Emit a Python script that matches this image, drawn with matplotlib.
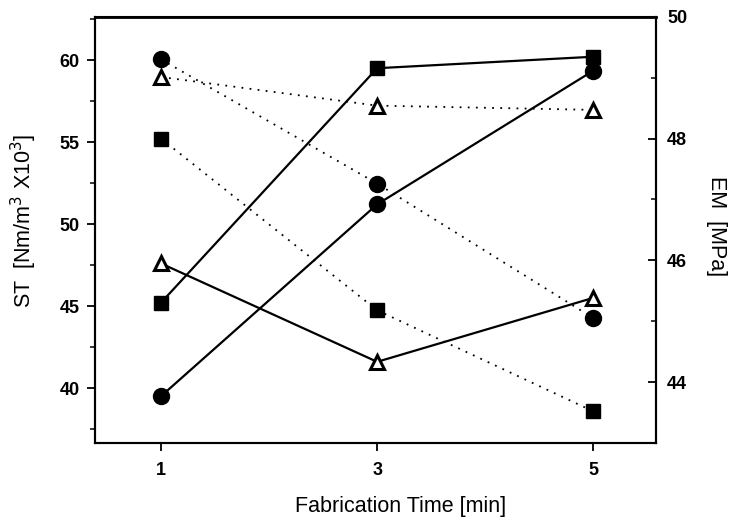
import matplotlib
matplotlib.use("Agg")
import matplotlib.pyplot as plt
from matplotlib.ticker import MultipleLocator

# Data
time_min = [1, 3, 5]
# ST series (left axis, solid lines)
st_square = [45.2, 59.5, 60.2]
st_circle = [39.5, 51.2, 59.35]
st_triangle = [47.6, 41.6, 45.5]
# EM series (right axis, dotted lines)
em_circle = [49.3, 47.26, 45.05]
em_triangle = [49.01, 48.54, 48.47]
em_square = [48.0, 45.18, 43.52]

x_ticks = [1, 3, 5]
st_ticks = [40, 45, 50, 55, 60]
em_ticks = [44, 46, 48, 50]

plt.rcParams['font.family'] = ['Liberation Sans', 'DejaVu Sans']

fig = plt.figure(figsize=(7.33, 5.19), dpi=100)
ax = fig.add_axes([0.1296, 0.1464, 0.7654, 0.8214])
ax2 = ax.twinx()

lw = 1.6
dot = (0, (1, 3.5))
# solid (left)
ax.plot(time_min, st_square, color='black', lw=lw, marker='s', ms=10.5, zorder=3)
ax.plot(time_min, st_circle, color='black', lw=lw, marker='o', ms=11.5, zorder=3)
ax.plot(time_min, st_triangle, color='black', lw=lw, marker='^', ms=10.5,
        mfc='white', mec='black', mew=2.2, zorder=3)
# dotted (right)
ax2.plot(time_min, em_circle, color='black', lw=1.3, ls=dot, marker='o', ms=11.5, zorder=3)
ax2.plot(time_min, em_triangle, color='black', lw=1.3, ls=dot, marker='^', ms=10.5,
         mfc='white', mec='black', mew=2.2, zorder=3)
ax2.plot(time_min, em_square, color='black', lw=1.3, ls=dot, marker='s', ms=10.5, zorder=3)

ax.set_xlim(0.39, 5.58)
ax.set_ylim(36.65, 62.64)
ax2.set_ylim(43.0, 50.0)

ax.set_xticks(x_ticks)
ax.set_yticks(st_ticks)
ax.yaxis.set_minor_locator(MultipleLocator(2.5))
ax2.set_yticks(em_ticks)
ax2.yaxis.set_minor_locator(MultipleLocator(1))

ax.tick_params(axis='both', which='major', direction='out', length=6, width=1.3,
               labelsize=13)
ax.tick_params(axis='y', which='minor', direction='out', length=3.5, width=1.1)
ax.tick_params(axis='x', which='major', pad=8)
ax.tick_params(axis='y', which='major', pad=5)
ax2.tick_params(axis='y', which='major', direction='in', length=6, width=1.3,
                labelsize=13, pad=8)
ax2.tick_params(axis='y', which='minor', direction='in', length=3.5, width=1.1)
for lab in ax.get_xticklabels() + ax.get_yticklabels() + ax2.get_yticklabels():
    lab.set_fontweight('bold')

for a in (ax, ax2):
    for s in a.spines.values():
        s.set_linewidth(1.5)
ax.spines['top'].set_linewidth(2)

ax.set_xlabel('Fabrication Time [min]', fontsize=15.5)
ax.xaxis.set_label_coords(0.545, -0.125)
ax.set_ylabel('ST  [Nm/m$^3$ X10$^3$]', fontsize=15.5)
ax.yaxis.set_label_coords(-0.1, 0.52)
ax2.set_ylabel('EM  [MPa]', fontsize=15.5, rotation=270, va='center')
ax2.yaxis.set_label_coords(1.107, 0.51)

fig.savefig('out.png', dpi=100)
